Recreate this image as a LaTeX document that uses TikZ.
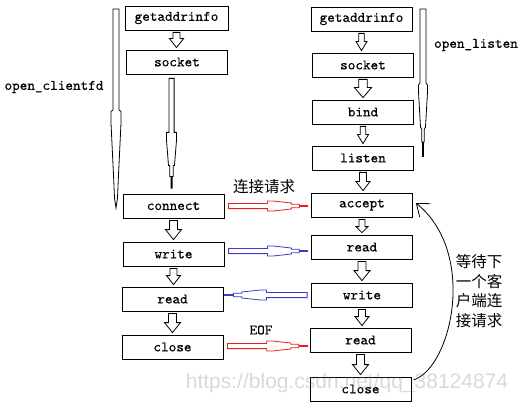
\documentclass[tikz,border=0pt]{standalone}
\usepackage{fontspec}
\newfontfamily\cjk{Noto Sans CJK SC}
\newfontfamily\wmfont{Liberation Sans}
\newfontfamily\monof{lmmono10-regular.otf}[FakeBold=0.4]
\usetikzlibrary{calc,arrows.meta}
\definecolor{pipered}{RGB}{235,30,30}
\definecolor{pipeblue}{RGB}{60,60,200}
\newcommand\hollow[4]{%
  \draw[hollowarrow] let \p1=($(#1.south)+(0pt,-2pt)$), \p2=($(#2.north)+(0pt,2pt)$) in
   (\x1-0.5*#3pt,\y1) -- (\x1+0.5*#3pt,\y1) -- (\x1+0.5*#3pt,\y2+#4pt) -- (\x1+#3pt,\y2+#4pt)
   -- (\x1,\y2) -- (\x1-#3pt,\y2+#4pt) -- (\x1-0.5*#3pt,\y2+#4pt) -- cycle;}
\newcommand\pipe[3]{%
  \draw[pipeline,#3] ($(#1)!2.6pt!90:(#2)$) -- ($(#1)!0.49!(#2)!2.6pt!90:(#2)$)
   -- ($(#1)!0.49!(#2)!5pt!90:(#2)$) -- ($(#1)!0.56!(#2)!5pt!90:(#2)$)
   -- ($(#1)!0.79!(#2)!3pt!90:(#2)$) -- ($(#1)!0.79!(#2)!1.8pt!90:(#2)$)
   -- ($(#1)!0.89!(#2)!1.8pt!90:(#2)$) -- ($(#1)!0.89!(#2)!1.8pt!-90:(#2)$)
   -- ($(#1)!0.79!(#2)!1.8pt!-90:(#2)$) -- ($(#1)!0.79!(#2)!3pt!-90:(#2)$)
   -- ($(#1)!0.56!(#2)!5pt!-90:(#2)$) -- ($(#1)!0.49!(#2)!5pt!-90:(#2)$)
   -- ($(#1)!0.49!(#2)!2.6pt!-90:(#2)$) -- ($(#1)!2.6pt!-90:(#2)$) -- cycle;
  \draw[#3, line width=2pt] ($(#1)!0.89!(#2)$) -- (#2);}
\begin{document}
\begin{tikzpicture}[x=1pt,y=-1pt,
  box/.style={draw, line width=0.8pt, minimum width=101pt, minimum height=24pt, inner sep=0pt,
    font=\monof\fontsize{14.5}{16}\selectfont},
  lbl/.style={inner sep=0pt, font=\monof\fontsize{14.5}{16}\selectfont},
  cjklbl/.style={inner sep=0pt, font=\cjk\fontsize{15.5}{19.5}\selectfont},
  hollowarrow/.style={draw, line width=0.8pt, fill=white, line join=miter},
  pipeline/.style={line width=0.8pt, line join=miter},
  curvearrow/.style={line width=0.8pt, -{Straight Barb[length=11pt,width=17pt]}}]
\useasboundingbox (0,0) rectangle (523,404);
% left column
\node[box, minimum width=103pt] (gaL) at (176.5,18) {getaddrinfo};
\node[box] (socL) at (177,62) {socket};
\node[box] (connect) at (173.5,206) {connect};
\node[box] (writeL) at (173.5,254) {write};
\node[box] (readL) at (172.5,299) {read};
\node[box] (closeL) at (172.5,347) {close};
% right column
\node[box] (gaR) at (361.5,19) {getaddrinfo};
\node[box] (socR) at (363,65) {socket};
\node[box] (bind) at (363,112) {bind};
\node[box] (listen) at (363,158) {listen};
\node[box] (accept) at (362,205) {accept};
\node[box] (readR1) at (362,247) {read};
\node[box] (writeR) at (362,295) {write};
\node[box] (readR2) at (360.5,340) {read};
\node[box] (closeR) at (360.5,389) {close};
% hollow arrows
\hollow{gaL}{socL}{7}{9}
\hollow{connect}{writeL}{8}{10}
\hollow{writeL}{readL}{7}{9}
\hollow{readL}{closeL}{8}{10}
\hollow{gaR}{socR}{5.5}{9}
\hollow{socR}{bind}{8.5}{10}
\hollow{bind}{listen}{5.5}{9}
\hollow{listen}{accept}{7}{9}
\hollow{accept}{readR1}{6}{6}
\hollow{readR1}{writeR}{8}{10}
\hollow{writeR}{readR2}{7}{9}
\hollow{readR2}{closeR}{8}{10}
% middle pipe socket -> connect
\coordinate (mps) at ($(socL.south)+(-5.5pt,-4pt)$);
\coordinate (mpe) at ($(mps |- connect.north)+(0pt,5pt)$);
\pipe{mps}{mpe}{black}
% horizontal pipes
\coordinate (p1s) at ($(connect.east)+(4pt,0pt)$);
\coordinate (p1e) at ($(p1s -| accept.west)+(-3pt,0pt)$);
\pipe{p1s}{p1e}{pipered}
\coordinate (p2s) at ($(writeL.east)+(4pt,3pt)$);
\coordinate (p2e) at ($(p2s -| readR1.west)+(-3pt,0pt)$);
\pipe{p2s}{p2e}{pipeblue}
\coordinate (p3s) at ($(writeR.west)+(-4pt,0pt)$);
\coordinate (p3e) at ($(p3s -| readL.east)+(1pt,0pt)$);
\pipe{p3s}{p3e}{pipeblue}
\coordinate (p4s) at ($(closeL.east)+(4pt,1pt)$);
\coordinate (p4e) at ($(p4s -| readR2.west)+(-2pt,0pt)$);
\pipe{p4s}{p4e}{pipered}
% bracket pipes
\draw[pipeline] (113,9) -- (113,110) -- (111,111.5) -- (111,123) -- (113.5,175) -- (114.5,198)
  -- (116,208) -- (117.5,198) -- (118.5,175) -- (121,123) -- (121,111.5) -- (119,110) -- (119,9) -- cycle;
\draw[pipeline] (420,9) -- (420,83) -- (418.5,85) -- (418.5,92) -- (420.5,127) -- (421.7,129)
  -- (421.7,142) -- (424.3,142) -- (424.3,129) -- (425.5,127) -- (427.5,92) -- (427.5,85) -- (426,83) -- (426,9) -- cycle;
\draw[line width=2.5pt] (423,142) -- (423,157);
% labels
\node[lbl] (lclient) at (54,87) {open\_clientfd};
\node[lbl] (llisten) at (476,45) {open\_listen};
\node[cjklbl] (lreq) at (264,187) {连接请求};
\node[lbl] (leof) at (261,330) {EOF};
\node[cjklbl, align=center] (lwait) at (479,291) {等待下\\一个客\\户端连\\接请求};
% loop-back arrow
\coordinate (cs) at ($(closeR.east)+(2pt,9pt)$);
\coordinate (ce) at ($(accept.east)+(3pt,2pt)$);
\draw[curvearrow] (cs) .. controls +(38,-12) and +(62,50) .. (ce);
% watermark
\node[inner sep=0pt, font=\wmfont\fontsize{21}{21}\selectfont, text=gray, opacity=0.3] (wmark) at (347,383) {https://blog.csdn.net/qq\_38124874};
\end{tikzpicture}
\end{document}
